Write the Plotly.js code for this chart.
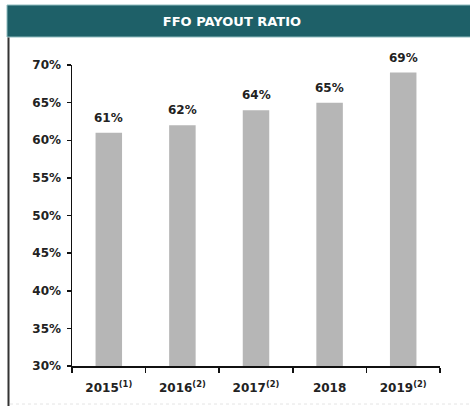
<!DOCTYPE html>
<html>
<head>
<meta charset="utf-8">
<script src="https://cdn.plot.ly/plotly-3.0.1.min.js"></script>
<style>html,body{margin:0;padding:0;background:#fff;}#chart{width:470px;height:406px;}</style>
</head>
<body>
<div id="chart"></div>
<script>
const chartTitle = 'FFO PAYOUT RATIO';
const categories = ['2015<sup>(1)</sup>', '2016<sup>(2)</sup>', '2017<sup>(2)</sup>', '2018', '2019<sup>(2)</sup>'];
const payoutRatio = [61, 62, 64, 65, 69];
const barLabels = ['61%', '62%', '64%', '65%', '69%'];
const yTickVals = [30, 35, 40, 45, 50, 55, 60, 65, 70];
const yTickText = ['30%', '35%', '40%', '45%', '50%', '55%', '60%', '65%', '70%'];

const W = 470, H = 406;
const mL = 72, mR = 30, mT = 65, mB = 40;
const pw = W - mL - mR, ph = H - mT - mB;
const px = x => (x - mL) / pw;
const py = y => (H - mB - y) / ph;

const fontFam = '"DejaVu Sans", Lato, sans-serif';
const textCol = '#222';

const trace = {
  type: 'bar',
  x: categories,
  y: payoutRatio,
  marker: {color: '#b6b6b6'},
  hoverinfo: 'skip'
};

// category index positions on the category axis
const annotations = payoutRatio.map((v, i) => ({
  x: i, y: v, xref: 'x', yref: 'y',
  text: barLabels[i], showarrow: false,
  yanchor: 'bottom', yshift: 6,
  font: {family: fontFam, size: 12, color: textCol, weight: 700}
}));

const layout = {
  width: W, height: H,
  margin: {l: mL, r: mR, t: mT, b: mB, pad: 0},
  paper_bgcolor: '#fff',
  plot_bgcolor: '#fff',
  showlegend: false,
  bargap: 0.64,
  title: {
    text: chartTitle,
    font: {family: fontFam, size: 13, color: '#ffffff', weight: 700},
    x: 232 / W, xanchor: 'center', xref: 'container',
    y: 1 - 21 / H, yanchor: 'middle', yref: 'container'
  },
  annotations: annotations,
  xaxis: {
    type: 'category',
    categoryorder: 'array', categoryarray: categories,
    range: [-0.5, categories.length - 0.5],
    showline: true, linecolor: '#111', linewidth: 1.5,
    ticks: 'outside', tickson: 'boundaries', ticklen: 5, tickcolor: '#111', tickwidth: 1.5,
    ticklabelstandoff: 10, tickangle: 0,
    tickfont: {family: fontFam, size: 12, color: textCol, weight: 700},
    showgrid: false, zeroline: false, fixedrange: true
  },
  yaxis: {
    range: [30, 70],
    tickvals: yTickVals,
    ticktext: yTickText,
    showline: true, linecolor: '#111', linewidth: 1.5,
    ticks: 'outside', ticklen: 4, tickcolor: '#111', tickwidth: 1.5,
    ticklabelstandoff: 3,
    tickfont: {family: fontFam, size: 12, color: textCol, weight: 700},
    showgrid: false, zeroline: false, fixedrange: true
  },
  shapes: [
    {type: 'rect', xref: 'paper', yref: 'paper', layer: 'below',
     x0: px(7), x1: px(471), y0: py(37), y1: py(5),
     fillcolor: '#1e6068', line: {color: '#8fbcbf', width: 1}},
    {type: 'line', xref: 'paper', yref: 'paper',
     x0: px(8.5), x1: px(8.5), y0: py(407), y1: py(37.5),
     line: {color: '#333', width: 2}},
    {type: 'line', xref: 'paper', yref: 'paper',
     x0: px(10), x1: px(470), y0: py(404), y1: py(404),
     line: {color: '#e4e4e4', width: 1, dash: 'dot'}}
  ]
};

Plotly.newPlot('chart', [trace], layout, {displayModeBar: false, staticPlot: true});
</script>
</body>
</html>
